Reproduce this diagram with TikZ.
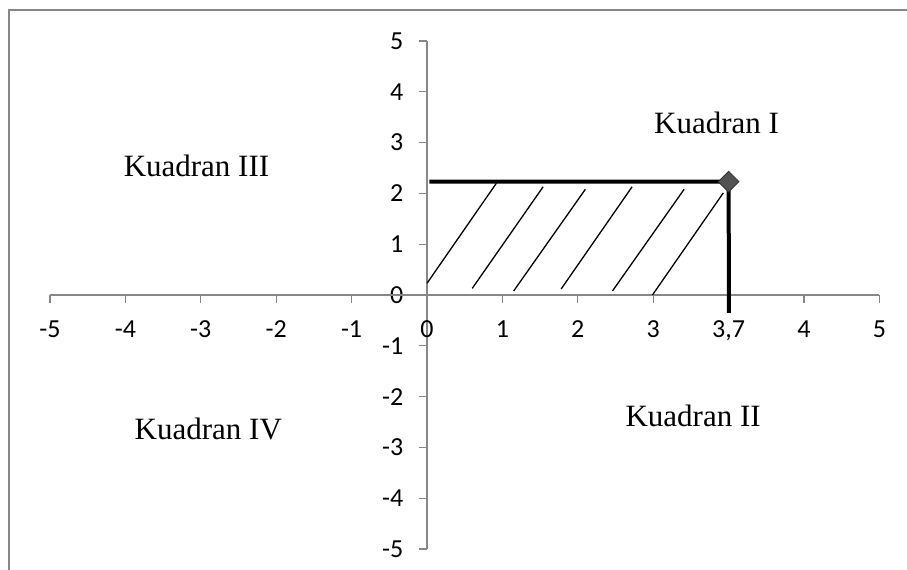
\documentclass[tikz,border=0pt]{standalone}
\usepackage{fontspec}
\setmainfont{Liberation Serif}
\newfontfamily\axisfont{Carlito}
\usepackage{tikz}
\usetikzlibrary{shapes.geometric}

\begin{document}
\begin{tikzpicture}[
  x=37.7pt, y=25.4pt,
  frame/.style={draw=black!47, line width=1pt},
  axisline/.style={draw=black!47, line width=0.6pt},
  ticklbl/.style={font=\axisfont\fontsize{13}{15}\selectfont, inner sep=0pt},
  quad/.style={font=\fontsize{15.5}{18}\selectfont, anchor=base, inner sep=0pt},
  dataline/.style={line width=2pt, black},
  hatch/.style={line width=0.65pt, black},
  marker/.style={diamond, fill=black!68, draw=black!80, inner sep=0pt, minimum width=10.5pt, minimum height=10.5pt},
]
\useasboundingbox (-5.663,-5.413) rectangle (6.366,5.807);

% Chart frame (cut off on the right and at the bottom)
\draw[frame] (-5.544,-5.413) -- (-5.544,5.610) -- (6.366,5.610);

% Vertical axis
\draw[axisline] (0,-5) -- (0,5);
\foreach \v in {-5,...,5} {
  \draw[axisline] (-0.106,\v) -- (0,\v);
  \node[ticklbl, anchor=east] (yl\v) at (-0.31,\v) {\v};
}

% Horizontal axis (category slots)
\draw[axisline] (-5,0) -- (6,0);
\foreach \s/\t in {-5/-5,-4/-4,-3/-3,-2/-2,-1/-1,0/0,1/1,2/2,3/3,4/{3,7},5/4,6/5} {
  \draw[axisline] (\s,0) -- (\s,-0.157);
  \node[ticklbl, anchor=base] (xl\s) at (\s,-0.835) {\t};
}

% Hatching
\foreach \a/\b/\c/\d in {0/0.23/0.92/2.20, 0.60/0.13/1.54/2.13, 1.15/0.08/2.10/2.08,
                         1.78/0.12/2.72/2.13, 2.46/0.08/3.41/2.08, 2.99/0.0/3.93/2.01}
  \draw[hatch] (\a,\b) -- (\c,\d);

% Data line and point
\coordinate (lstart) at (0.03,2.23);
\coordinate (pt) at (4,2.23);
\coordinate (lend) at (4.005,-0.354);
\draw[dataline] (lstart) -- (pt) -- (lend);
\node[marker] (mark) at (pt) {};

% Quadrant labels
\node[quad] (q1) at (3.84,3.17) {Kuadran I};
\node[quad] (q2) at (3.53,-2.59) {Kuadran II};
\node[quad] (q3) at (-3.057,2.33) {Kuadran III};
\node[quad] (q4) at (-2.90,-2.84) {Kuadran IV};

\end{tikzpicture}
\end{document}
